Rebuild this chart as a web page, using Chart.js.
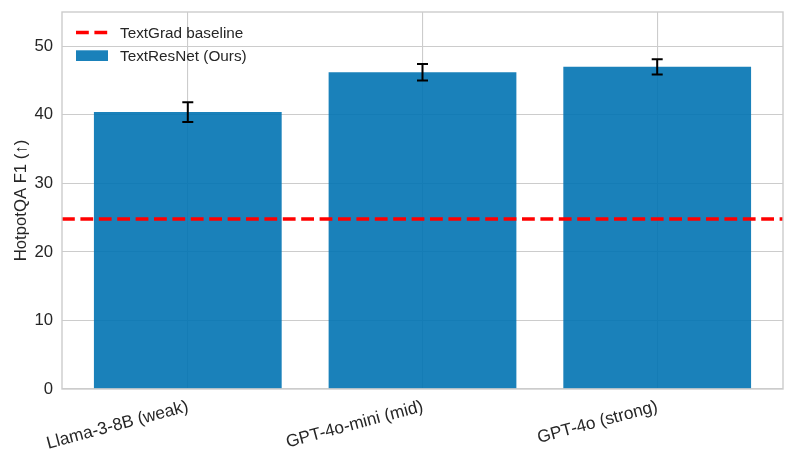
<!DOCTYPE html>
<html>
<head>
<meta charset="utf-8">
<script src="https://cdn.jsdelivr.net/npm/chart.js@4"></script>
<style>
  html, body { margin: 0; padding: 0; background: #fff; }
  #wrap { width: 797px; height: 469px; position: relative; }
</style>
</head>
<body>
<div id="wrap"><canvas id="chart"></canvas></div>
<script>
// data
const categories = ["Llama-3-8B (weak)", "GPT-4o-mini (mid)", "GPT-4o (strong)"];
const oursValues = [40.4, 46.2, 47.0];
const oursErrors = [1.45, 1.2, 1.1];
const baselineValue = 24.8;
const yTicks = [0, 10, 20, 30, 40, 50];
const yMax = 55;
const xMin = -0.536, xMax = 2.536;

const FONT = '"Liberation Sans", Arial, sans-serif';
const TEXT = "#262626";
const GRID = "#cccccc";
const BAR = "rgba(1,115,178,0.9)";

// error bars, frame, rotated x labels and in-axes legend
const extras = {
  id: "extras",
  afterDatasetsDraw(chart) {
    const { ctx, scales: { x, y } } = chart;
    ctx.save();
    ctx.strokeStyle = "#000";
    ctx.lineWidth = 2;
    oursValues.forEach((v, i) => {
      const px = x.getPixelForValue(i);
      const top = y.getPixelForValue(v + oursErrors[i]);
      const bot = y.getPixelForValue(v - oursErrors[i]);
      ctx.beginPath();
      ctx.moveTo(px, top); ctx.lineTo(px, bot);
      ctx.moveTo(px - 5.5, top); ctx.lineTo(px + 5.5, top);
      ctx.moveTo(px - 5.5, bot); ctx.lineTo(px + 5.5, bot);
      ctx.stroke();
    });
    ctx.restore();
  },
  afterDraw(chart) {
    const { ctx, chartArea: a, scales: { x } } = chart;
    ctx.save();
    // frame (all four spines)
    ctx.strokeStyle = GRID;
    ctx.lineWidth = 1.4;
    ctx.strokeRect(a.left, a.top, a.right - a.left, a.bottom - a.top);

    // x tick labels, rotated 15deg, right aligned at tick
    ctx.fillStyle = TEXT;
    ctx.font = "17.3px " + FONT;
    ctx.textAlign = "right";
    ctx.textBaseline = "top";
    categories.forEach((c, i) => {
      const px = x.getPixelForValue(i);
      ctx.save();
      ctx.translate(px - 2, a.bottom + 9);
      ctx.rotate(-15 * Math.PI / 180);
      ctx.fillText(c, 0, 0);
      ctx.restore();
    });

    // legend
    const ds = chart.data.datasets;
    const lx = a.left + 14;
    ctx.font = "15.3px " + FONT;
    ctx.textAlign = "left";
    ctx.textBaseline = "alphabetic";
    const line = ds.find(d => d.type === "line");
    const bar = ds.find(d => d.type === "bar");
    ctx.strokeStyle = line.borderColor;
    ctx.lineWidth = line.borderWidth;
    ctx.setLineDash(line.borderDash);
    ctx.beginPath();
    ctx.moveTo(lx, a.top + 20.5); ctx.lineTo(lx + 32, a.top + 20.5);
    ctx.stroke();
    ctx.setLineDash([]);
    ctx.fillText(line.label, lx + 44, a.top + 26.3);
    ctx.fillStyle = bar.backgroundColor;
    ctx.fillRect(lx, a.top + 38.3, 32, 10.7);
    ctx.fillStyle = TEXT;
    ctx.fillText(bar.label, lx + 44, a.top + 49);
    ctx.restore();
  }
};

new Chart(document.getElementById("chart"), {
  data: {
    datasets: [
      {
        type: "line",
        label: "TextGrad baseline",
        data: [{ x: xMin, y: baselineValue }, { x: xMax, y: baselineValue }],
        borderColor: "#ff0000",
        borderWidth: 3.5,
        borderDash: [12.8, 5.6],
        pointRadius: 0,
        order: 0
      },
      {
        type: "bar",
        label: "TextResNet (Ours)",
        data: oursValues.map((v, i) => ({ x: i, y: v })),
        backgroundColor: BAR,
        borderWidth: 0,
        barPercentage: 0.8,
        categoryPercentage: 1.0,
        order: 1
      }
    ]
  },
  options: {
    responsive: true,
    maintainAspectRatio: false,
    animation: false,
    layout: { padding: { top: 12, right: 14, left: 0, bottom: 0 } },
    plugins: { legend: { display: false }, tooltip: { enabled: false } },
    scales: {
      x: {
        type: "linear",
        min: xMin,
        max: xMax,
        offset: false,
        afterBuildTicks: s => { s.ticks = categories.map((c, i) => ({ value: i })); },
        afterFit: s => { s.height = 80; s.paddingLeft = 0; s.paddingRight = 0; },
        grid: { color: GRID, lineWidth: 1.1, drawTicks: false, offset: false },
        border: { display: false },
        ticks: { display: false }
      },
      y: {
        min: 0,
        max: yMax,
        afterBuildTicks: s => { s.ticks = yTicks.map(v => ({ value: v })); },
        afterFit: s => { s.width = 62; s.paddingTop = 0; s.paddingBottom = 0; },
        grid: { color: GRID, lineWidth: 1.1, drawTicks: false },
        border: { display: false },
        ticks: { color: TEXT, padding: 9, font: { family: FONT, size: 16.7 } },
        title: {
          display: true,
          text: "HotpotQA F1 (↑)",
          color: TEXT,
          font: { family: FONT, size: 16.7 },
          padding: { top: 11, bottom: 0 }
        }
      }
    }
  },
  plugins: [extras]
});
</script>
</body>
</html>
